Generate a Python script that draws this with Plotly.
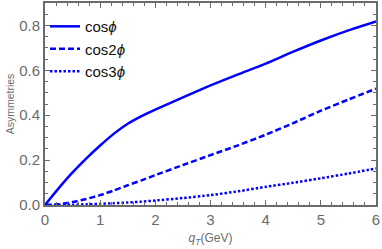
import plotly.graph_objects as go

q_T = [0, 0.25, 0.5, 0.75, 1, 1.25, 1.5, 1.75, 2, 2.5, 3, 3.5, 4, 4.5, 5, 5.5, 6]
cos_phi = [0, 0.075, 0.145, 0.208, 0.265, 0.318, 0.362, 0.396, 0.425, 0.48, 0.533, 0.582, 0.63, 0.683, 0.733, 0.778, 0.818]
cos2_phi = [0, 0.003, 0.013, 0.027, 0.044, 0.065, 0.088, 0.11, 0.133, 0.178, 0.222, 0.266, 0.313, 0.365, 0.42, 0.47, 0.518]
cos3_phi = [0, 0.0003, 0.001, 0.003, 0.005, 0.008, 0.011, 0.015, 0.02, 0.031, 0.044, 0.061, 0.081, 0.099, 0.119, 0.14, 0.163]

names = ["cos<i>ϕ</i>", "cos2<i>ϕ</i>", "cos3<i>ϕ</i>"]
dashes = ["solid", "6px,3px", "2.5px,2px"]

GRAY = "#6b6b6b"
FONT = "Liberation Sans, Arial"

fig = go.Figure()
for ys, nm, d in zip([cos_phi, cos2_phi, cos3_phi], names, dashes):
    fig.add_trace(go.Scatter(x=q_T, y=ys, mode="lines", name=nm,
                             line=dict(color="#0000FF", width=2.5, dash=d,
                                       shape="spline", smoothing=0.6)))

axis_common = dict(
    showgrid=False, zeroline=False, showline=True, linecolor=GRAY, linewidth=2,
    mirror="allticks", ticks="inside", ticklen=5, tickwidth=1.2, tickcolor=GRAY,
    tickfont=dict(family=FONT, size=15, color=GRAY), automargin=False,
)

fig.update_xaxes(range=[0, 6], dtick=1, tick0=0,
                 minor=dict(ticks="inside", dtick=0.2, ticklen=3, tickcolor=GRAY, showgrid=False),
                 title=dict(text="<i>q</i><sub><i>T</i></sub>(GeV)", standoff=7,
                            font=dict(family=FONT, size=12, color=GRAY)),
                 **axis_common)
fig.update_yaxes(range=[0, 0.9], dtick=0.2, tick0=0, tickformat=".1f",
                 minor=dict(ticks="inside", dtick=0.05, ticklen=3, tickcolor=GRAY, showgrid=False),
                 title=dict(text="Asymmetries", standoff=2,
                            font=dict(family=FONT, size=10.5, color=GRAY)),
                 **axis_common)

fig.update_layout(
    width=382, height=249,
    margin=dict(l=45, r=5.5, t=2.5, b=44),
    plot_bgcolor="white", paper_bgcolor="white",
    legend=dict(x=0.0, y=0.965, xanchor="left", yanchor="top", bgcolor="rgba(0,0,0,0)",
                font=dict(family=FONT, size=15, color="#111111")),
)

fig.write_html("out.html", config={"displayModeBar": False},
               post_script="document.body.style.margin='0';document.body.style.overflow='hidden';")
